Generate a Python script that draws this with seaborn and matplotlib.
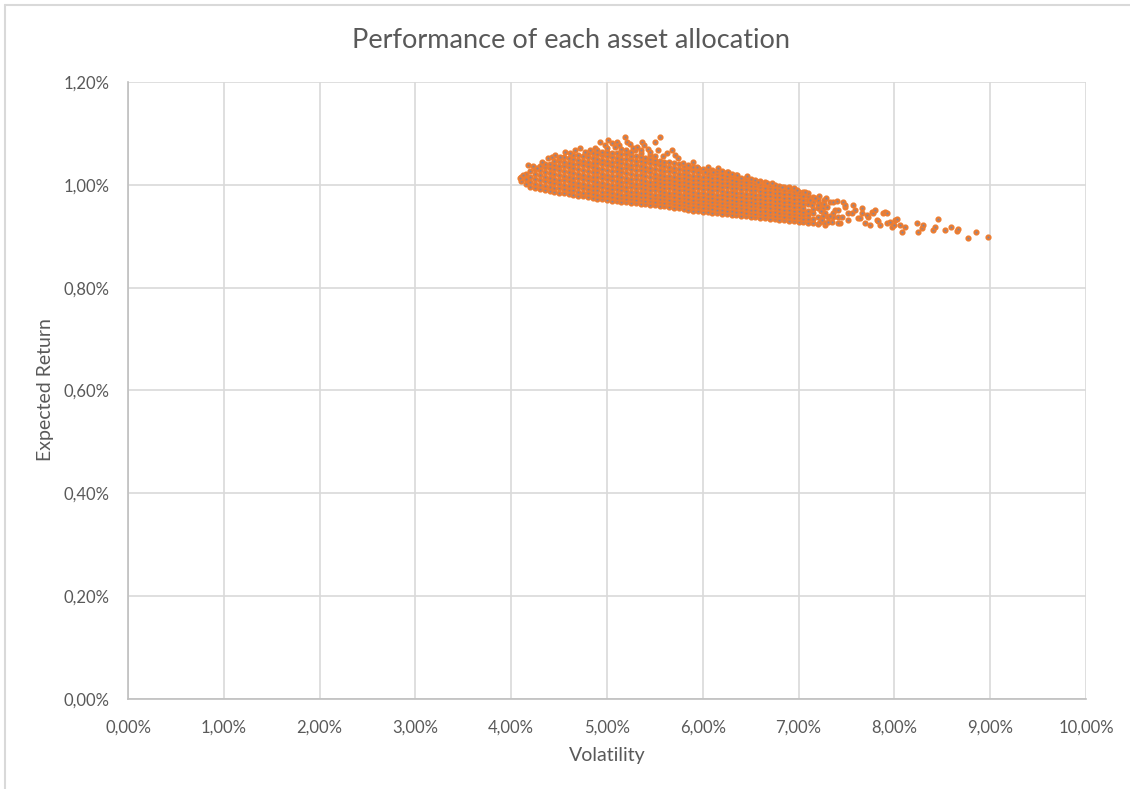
import matplotlib
matplotlib.use("Agg")
import matplotlib.pyplot as plt
import pandas as pd
import seaborn as sns
from matplotlib.lines import Line2D
from matplotlib.ticker import FuncFormatter

# ---------------- data (volatility %, expected return %) ----------------
# dense core of the cloud: one column of returns per volatility level
core_vol = [4.10, 4.15, 4.20, 4.25, 4.30, 4.35, 4.40, 4.45, 4.50, 4.55,
            4.60, 4.65, 4.70, 4.75, 4.80, 4.85, 4.90, 4.95, 5.00, 5.05,
            5.10, 5.15, 5.20, 5.25, 5.30, 5.35, 5.40, 5.45, 5.50, 5.55,
            5.60, 5.65, 5.70, 5.75, 5.80, 5.85, 5.90, 5.95, 6.00, 6.05,
            6.10, 6.15, 6.20, 6.25, 6.30, 6.35, 6.40, 6.45, 6.50, 6.55,
            6.60, 6.65, 6.70, 6.75, 6.80, 6.85, 6.90, 6.95, 7.00, 7.05,
            7.10, 7.15, 7.20]
core_ret = [
    [1.008, 1.016],
    [1.002, 1.012, 1.021],
    [0.996, 1.005, 1.016, 1.026],
    [0.993, 1.002, 1.012, 1.021, 1.031],
    [0.991, 1.000, 1.010, 1.019, 1.028, 1.036],
    [0.990, 0.998, 1.007, 1.016, 1.025, 1.034, 1.040],
    [0.988, 0.996, 1.005, 1.014, 1.023, 1.032, 1.041],
    [0.987, 0.994, 1.003, 1.012, 1.021, 1.030, 1.039, 1.047],
    [0.985, 0.993, 1.001, 1.010, 1.019, 1.028, 1.037, 1.046, 1.052],
    [0.984, 0.992, 1.000, 1.009, 1.018, 1.027, 1.036, 1.045, 1.054],
    [0.982, 0.990, 0.998, 1.007, 1.016, 1.025, 1.034, 1.043, 1.052],
    [0.981, 0.989, 0.997, 1.005, 1.014, 1.023, 1.032, 1.041, 1.050, 1.058],
    [0.979, 0.987, 0.995, 1.004, 1.013, 1.022, 1.031, 1.040, 1.049, 1.058],
    [0.978, 0.985, 0.993, 1.002, 1.011, 1.020, 1.029, 1.038, 1.047, 1.056],
    [0.976, 0.984, 0.992, 1.000, 1.009, 1.018, 1.027, 1.036, 1.045, 1.054, 1.062],
    [0.975, 0.982, 0.990, 0.998, 1.007, 1.016, 1.025, 1.034, 1.043, 1.052, 1.061],
    [0.973, 0.981, 0.989, 0.997, 1.006, 1.015, 1.024, 1.033, 1.042, 1.051, 1.060],
    [0.972, 0.979, 0.987, 0.995, 1.004, 1.013, 1.022, 1.031, 1.040, 1.049, 1.058, 1.064],
    [0.970, 0.978, 0.986, 0.994, 1.002, 1.011, 1.020, 1.029, 1.038, 1.047, 1.056, 1.064],
    [0.969, 0.976, 0.984, 0.992, 1.000, 1.009, 1.018, 1.027, 1.036, 1.045, 1.054, 1.062],
    [0.968, 0.975, 0.983, 0.991, 0.999, 1.008, 1.017, 1.026, 1.035, 1.044, 1.053, 1.062],
    [0.967, 0.974, 0.981, 0.989, 0.997, 1.006, 1.015, 1.024, 1.033, 1.042, 1.051, 1.060],
    [0.966, 0.973, 0.980, 0.988, 0.996, 1.005, 1.014, 1.023, 1.032, 1.041, 1.050, 1.059],
    [0.965, 0.972, 0.979, 0.987, 0.995, 1.003, 1.012, 1.021, 1.030, 1.039, 1.048, 1.057, 1.063],
    [0.964, 0.971, 0.978, 0.986, 0.994, 1.002, 1.011, 1.020, 1.029, 1.038, 1.047, 1.056],
    [0.963, 0.970, 0.977, 0.985, 0.993, 1.001, 1.010, 1.019, 1.028, 1.037, 1.046, 1.055, 1.061],
    [0.962, 0.969, 0.976, 0.984, 0.992, 1.000, 1.008, 1.017, 1.026, 1.035, 1.044, 1.053],
    [0.961, 0.968, 0.975, 0.983, 0.990, 0.998, 1.006, 1.015, 1.024, 1.033, 1.042, 1.051, 1.058],
    [0.960, 0.967, 0.974, 0.981, 0.989, 0.997, 1.005, 1.013, 1.022, 1.031, 1.040, 1.049, 1.056],
    [0.959, 0.966, 0.973, 0.980, 0.988, 0.995, 1.003, 1.011, 1.020, 1.029, 1.038, 1.047],
    [0.958, 0.965, 0.972, 0.979, 0.986, 0.994, 1.002, 1.010, 1.018, 1.027, 1.036, 1.045],
    [0.957, 0.964, 0.971, 0.978, 0.985, 0.993, 1.001, 1.009, 1.017, 1.026, 1.035, 1.044],
    [0.955, 0.962, 0.969, 0.976, 0.984, 0.992, 1.000, 1.008, 1.016, 1.024, 1.033, 1.042],
    [0.954, 0.961, 0.968, 0.975, 0.982, 0.990, 0.998, 1.006, 1.014, 1.022, 1.031, 1.040],
    [0.953, 0.960, 0.967, 0.974, 0.981, 0.989, 0.997, 1.005, 1.013, 1.021, 1.029, 1.037],
    [0.951, 0.958, 0.965, 0.972, 0.980, 0.988, 0.996, 1.004, 1.012, 1.020, 1.028, 1.036],
    [0.950, 0.957, 0.964, 0.971, 0.978, 0.986, 0.994, 1.002, 1.010, 1.018, 1.026, 1.034],
    [0.949, 0.956, 0.963, 0.970, 0.977, 0.985, 0.993, 1.001, 1.009, 1.017, 1.025, 1.033],
    [0.948, 0.955, 0.962, 0.969, 0.976, 0.984, 0.992, 1.000, 1.008, 1.016, 1.024, 1.031],
    [0.947, 0.954, 0.961, 0.968, 0.975, 0.983, 0.991, 0.999, 1.007, 1.015, 1.023, 1.030],
    [0.946, 0.953, 0.960, 0.967, 0.974, 0.982, 0.990, 0.998, 1.006, 1.014, 1.022, 1.029],
    [0.945, 0.952, 0.959, 0.966, 0.973, 0.981, 0.989, 0.997, 1.005, 1.013, 1.021, 1.027],
    [0.944, 0.951, 0.958, 0.965, 0.972, 0.980, 0.988, 0.996, 1.004, 1.012, 1.020, 1.026],
    [0.943, 0.950, 0.957, 0.964, 0.971, 0.979, 0.987, 0.995, 1.003, 1.011, 1.018, 1.024],
    [0.942, 0.949, 0.956, 0.963, 0.970, 0.978, 0.986, 0.994, 1.002, 1.010, 1.017, 1.022],
    [0.941, 0.948, 0.955, 0.962, 0.969, 0.977, 0.985, 0.993, 1.001, 1.008, 1.015, 1.020],
    [0.940, 0.947, 0.954, 0.961, 0.968, 0.976, 0.984, 0.992, 1.000, 1.007, 1.014],
    [0.939, 0.946, 0.953, 0.960, 0.967, 0.975, 0.983, 0.991, 0.999, 1.006, 1.013],
    [0.938, 0.945, 0.952, 0.959, 0.966, 0.974, 0.982, 0.990, 0.998, 1.005, 1.012],
    [0.937, 0.944, 0.951, 0.958, 0.965, 0.973, 0.981, 0.989, 0.997, 1.004, 1.010],
    [0.936, 0.943, 0.950, 0.957, 0.964, 0.972, 0.980, 0.988, 0.995, 1.002, 1.008],
    [0.935, 0.942, 0.949, 0.956, 0.963, 0.971, 0.979, 0.987, 0.994, 1.001, 1.006],
    [0.934, 0.941, 0.948, 0.955, 0.962, 0.970, 0.978, 0.986, 0.993, 1.000],
    [0.933, 0.940, 0.947, 0.954, 0.961, 0.969, 0.977, 0.985, 0.992, 0.999],
    [0.932, 0.939, 0.946, 0.953, 0.960, 0.968, 0.976, 0.984, 0.991, 0.998],
    [0.931, 0.938, 0.945, 0.952, 0.959, 0.967, 0.975, 0.983, 0.990, 0.996],
    [0.930, 0.937, 0.944, 0.951, 0.958, 0.966, 0.974, 0.982, 0.989, 0.995],
    [0.929, 0.936, 0.943, 0.950, 0.957, 0.965, 0.973, 0.981, 0.988, 0.993],
    [0.928, 0.935, 0.942, 0.949, 0.956, 0.964, 0.972, 0.980, 0.987],
    [0.927, 0.934, 0.941, 0.948, 0.955, 0.963, 0.971, 0.979, 0.986],
    [0.926, 0.933, 0.941, 0.949, 0.962, 0.970, 0.978, 0.985],
    [0.925, 0.934, 0.946, 0.953, 0.967, 0.977],
    [0.924, 0.938, 0.954, 0.970],
]

# scattered allocations above the dense core (upper edge of the cloud)
upper_vol = [4.09, 4.12, 4.18, 4.23, 4.27, 4.32, 4.38, 4.43, 4.46, 4.51,
             4.56, 4.61, 4.67, 4.72, 4.77, 4.82, 4.87, 4.93, 4.98, 5.01,
             5.05, 5.10, 5.19, 5.21, 5.24, 5.29, 5.31, 5.37, 5.39, 5.43,
             5.50, 5.55, 5.53, 5.58, 5.63, 5.68, 5.71, 5.74, 5.79, 5.85,
             5.90, 5.94, 6.02, 6.05, 6.11, 6.16, 6.26, 6.36, 6.46, 6.58,
             6.67, 6.72, 6.83, 6.89, 6.98, 7.07, 5.00, 5.08, 5.15, 5.13,
             5.27, 5.35, 5.45, 4.90, 5.20, 7.12, 7.14]
upper_ret = [1.013, 1.019, 1.038, 1.037, 1.033, 1.044, 1.052, 1.054, 1.058, 1.054,
             1.064, 1.062, 1.068, 1.072, 1.064, 1.068, 1.072, 1.083, 1.077, 1.087,
             1.081, 1.083, 1.093, 1.083, 1.079, 1.068, 1.074, 1.083, 1.077, 1.070,
             1.083, 1.093, 1.068, 1.056, 1.062, 1.068, 1.058, 1.052, 1.042, 1.038,
             1.044, 1.035, 1.025, 1.035, 1.025, 1.033, 1.025, 1.019, 1.017, 1.005,
             1.003, 1.003, 0.996, 0.994, 0.990, 0.986, 1.072, 1.074, 1.070, 1.078,
             1.072, 1.068, 1.064, 1.068, 1.068, 0.970, 0.961]

# sparse high-volatility tail of the cloud
tail_vol = [7.22, 7.28, 7.33, 7.36, 7.38, 7.41, 7.46, 7.48, 7.43, 7.52,
            7.56, 7.59, 7.62, 7.66, 7.69, 7.72, 7.77, 7.22, 7.28, 7.35,
            7.31, 7.40, 7.48, 7.41, 7.36, 7.28, 7.41, 7.45, 7.52, 7.57,
            7.71, 7.75, 7.78, 7.80, 7.82, 7.85, 7.88, 7.90, 7.92, 7.95,
            7.97, 8.01, 8.03, 8.06, 8.08, 8.11, 8.24, 8.25, 8.29, 8.30,
            8.40, 8.42, 8.46, 8.53, 8.59, 8.65, 8.66, 8.77, 8.85, 8.98,
            7.66, 7.64, 7.36, 7.83, 7.92, 8.00, 7.17, 7.20, 7.25,
            7.23, 7.25, 7.24, 7.26, 7.30, 7.31, 7.27, 7.33, 7.21, 7.29]
tail_ret = [0.963, 0.945, 0.967, 0.967, 0.951, 0.937, 0.967, 0.957, 0.926, 0.932,
            0.945, 0.951, 0.935, 0.945, 0.926, 0.937, 0.947, 0.928, 0.922, 0.928,
            0.937, 0.968, 0.961, 0.951, 0.945, 0.926, 0.926, 0.937, 0.945, 0.961,
            0.941, 0.922, 0.945, 0.951, 0.932, 0.922, 0.945, 0.947, 0.926, 0.928,
            0.918, 0.932, 0.933, 0.922, 0.908, 0.918, 0.926, 0.908, 0.916, 0.922,
            0.912, 0.918, 0.933, 0.912, 0.918, 0.910, 0.914, 0.897, 0.908, 0.898,
            0.955, 0.935, 0.937, 0.930, 0.945, 0.922, 0.974, 0.961, 0.955,
            0.950, 0.940, 0.931, 0.970, 0.956, 0.928, 0.962, 0.940, 0.979, 0.975]

title = "Performance of each asset allocation"
x_label = "Volatility"
y_label = "Expected Return"
x_ticks = [0, 1, 2, 3, 4, 5, 6, 7, 8, 9, 10]
y_ticks = [0.0, 0.2, 0.4, 0.6, 0.8, 1.0, 1.2]

# ---------------- assemble ----------------
rows = [(v, r) for v, col in zip(core_vol, core_ret) for r in col]
rows += list(zip(upper_vol, upper_ret))
rows += list(zip(tail_vol, tail_ret))
df = pd.DataFrame(rows, columns=["vol", "ret"])

sns.set_theme(style="white")
plt.rcParams["font.family"] = ["Lato", "DejaVu Sans"]

W, H = 1130, 789
fig = plt.figure(figsize=(W / 100, H / 100), dpi=100)
ax = fig.add_axes([128 / W, 1 - 699 / H, (1086 - 128) / W, (699 - 82) / H])

txt = "#595959"
grid_c = "#d9d9d9"

sns.scatterplot(data=df, x="vol", y="ret", ax=ax, s=9, color="#85859a",
                edgecolor="#ED7D31", linewidth=1.45, legend=False, zorder=3)

ax.set_xlim(0, 10)
ax.set_ylim(0, 1.2)
ax.set_xticks(x_ticks)
ax.set_yticks(y_ticks)
fmt = FuncFormatter(lambda v, p: f"{v:.2f}%".replace(".", ","))
ax.xaxis.set_major_formatter(fmt)
ax.yaxis.set_major_formatter(fmt)
ax.grid(True, color=grid_c, linewidth=1.2, zorder=0)
ax.set_axisbelow(True)
for s in ["top", "right"]:
    ax.spines[s].set_visible(False)
for s in ["left", "bottom"]:
    ax.spines[s].set_color("#bfbfbf")
    ax.spines[s].set_linewidth(1.2)
ax.tick_params(axis="both", length=0, labelsize=12, labelcolor=txt)
ax.tick_params(axis="x", pad=15)
ax.tick_params(axis="y", pad=13)
ax.set_xlabel("")
ax.set_ylabel("")

fig.text(571 / W, 1 - 40 / H, title, ha="center", va="center", fontsize=19.5, color=txt)
fig.text(607 / W, 1 - 756 / H, x_label, ha="center", va="center", fontsize=14, color=txt)
fig.text(46 / W, 1 - 390 / H, y_label, ha="center", va="center", rotation=90,
         fontsize=14, color=txt)

# outer chart frame
fig.add_artist(Line2D([5 / W, 5 / W], [0, 1 - 5 / H], transform=fig.transFigure,
                      color=grid_c, linewidth=1.5))
fig.add_artist(Line2D([5 / W, 1], [1 - 5 / H, 1 - 5 / H], transform=fig.transFigure,
                      color=grid_c, linewidth=1.5))

fig.savefig("out.png", dpi=100)
